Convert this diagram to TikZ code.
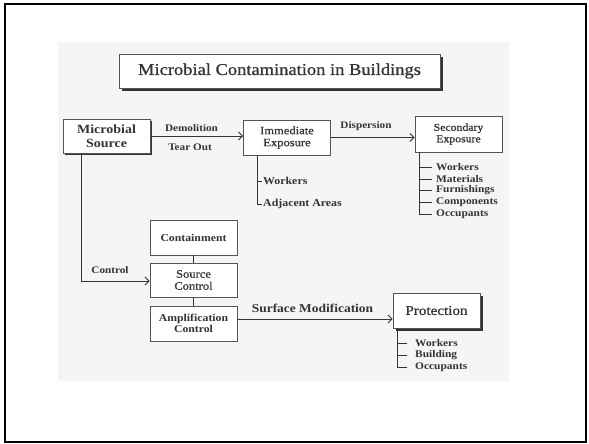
\documentclass[tikz,border=0pt]{standalone}
\usepackage{fontspec}
\setmainfont[FakeStretch=1.12]{Liberation Serif}
\newfontfamily\medfont[FakeStretch=1.12, FakeBold=0.8]{Liberation Serif}
\usetikzlibrary{arrows.meta}
\definecolor{scan}{HTML}{F5F5F5}
\definecolor{ink}{HTML}{333333}
\definecolor{boxline}{HTML}{555555}
\tikzset{
  box/.style={draw=boxline, line width=0.8pt, fill=white, minimum width=87pt, minimum height=35pt, align=center, inner sep=1pt, text=ink, font=\medfont\fontsize{10.5}{11.5}\selectfont},
  bbox/.style={box, font=\fontsize{10.5}{11.5}\selectfont\bfseries},
  lbl/.style={font=\fontsize{10}{11}\selectfont\bfseries, text=ink, inner sep=1pt},
  item/.style={font=\fontsize{10.2}{11}\selectfont\bfseries, text=ink, anchor=west, inner xsep=2pt, inner ysep=0pt},
  conn/.style={draw=ink, line width=0.9pt},
  arr/.style={conn, -{Straight Barb[length=4pt,width=8pt]}},
  shadowbox/.style={fill=ink},
}
\begin{document}
\begin{tikzpicture}[x=1pt,y=-1pt]
\useasboundingbox (0,0) rectangle (589,444);
\draw[line width=1.6pt] (5,4) rectangle (586,442);
\fill[scan] (58,42) rectangle (509,381);

% title
\fill[shadowbox] (122,57) rectangle (443,91);
\node[box, minimum width=321pt, minimum height=34pt, font=\medfont\fontsize{16.5}{18}\selectfont] (title) at (279.5,71) {Microbial Contamination in Buildings};

% microbial source
\fill[shadowbox] (65,121) rectangle (152,155);
\node[bbox, minimum height=34pt, font=\fontsize{12.5}{14}\selectfont\bfseries] (ms) at (106.5,136) {Microbial\\Source};

\node[box, font=\medfont\fontsize{11.2}{12}\selectfont] (imm) at (287,137.5) {Immediate\\Exposure};
\node[box, minimum height=36pt] (sec) at (458.5,134) {Secondary\\Exposure};

\node[bbox] (cont) at (193.5,237.5) {Containment};
\node[box, minimum height=34pt, font=\medfont\fontsize{11.2}{12}\selectfont] (sc) at (193.5,280) {Source\\Control};
\node[bbox] (amp) at (193.5,323.5) {Amplification\\Control};

\fill[shadowbox] (396,296) rectangle (483,331);
\node[box, font=\medfont\fontsize{13.5}{14}\selectfont] (prot) at (436.5,310.5) {Protection};

% connectors
\draw[arr] (ms.east) -- (ms.east -| imm.west);
\node[lbl] (dem) at (191.5,128) {Demolition};
\node[lbl] (tear) at (190,147) {Tear Out};

\draw[arr] (imm.east) -- (imm.east -| sec.west);
\node[lbl] (disp) at (366,126) {Dispersion};

\draw[arr] ([xshift=-25.5pt]ms.south) |- ([yshift=-1pt]sc.west);
\node[lbl] (ctrl) at (110,270) {Control};

\draw[conn] (cont.south) -- (sc.north);
\draw[conn] (sc.south) -- (amp.north);

\draw[arr] ([yshift=4.5pt]amp.east) -- ([yshift=4.5pt]amp.east -| prot.west);
\node[lbl, font=\fontsize{12}{13}\selectfont\bfseries] (surf) at (312.5,308) {Surface Modification};

% immediate list
\node[item, inner xsep=1pt, font=\fontsize{10.6}{11}\selectfont\bfseries] (iw) at (262,181) {Workers};
\node[item, inner xsep=1pt, font=\fontsize{10.6}{11}\selectfont\bfseries] (ia) at (262,204) {Adjacent Areas};
\coordinate (itop) at ([xshift=14pt]imm.south west);
\draw[conn] (itop) |- (iw.west);
\draw[conn] (itop) |- (ia.west);

% secondary list
\coordinate (stop) at ([xshift=5pt]sec.south west);
\node[item, inner xsep=4pt] (s1) at (432,167) {Workers};
\node[item, inner xsep=4pt] (s2) at (432,179) {Materials};
\node[item, inner xsep=4pt] (s3) at (432,190.5) {Furnishings};
\node[item, inner xsep=4pt] (s4) at (432,202) {Components};
\node[item, inner xsep=4pt] (s5) at (432,214) {Occupants};
\foreach \n in {s1,s2,s3,s4,s5} \draw[conn] (stop) |- (\n.west);

% protection list
\coordinate (ptop) at ([xshift=5pt]prot.south west);
\node[item, inner xsep=8pt] (p1) at (407,343) {Workers};
\node[item, inner xsep=8pt] (p2) at (407,355) {Building};
\node[item, inner xsep=8pt] (p3) at (407,367) {Occupants};
\foreach \n in {p1,p2,p3} \draw[conn] (ptop) |- (\n.west);
\end{tikzpicture}
\end{document}
